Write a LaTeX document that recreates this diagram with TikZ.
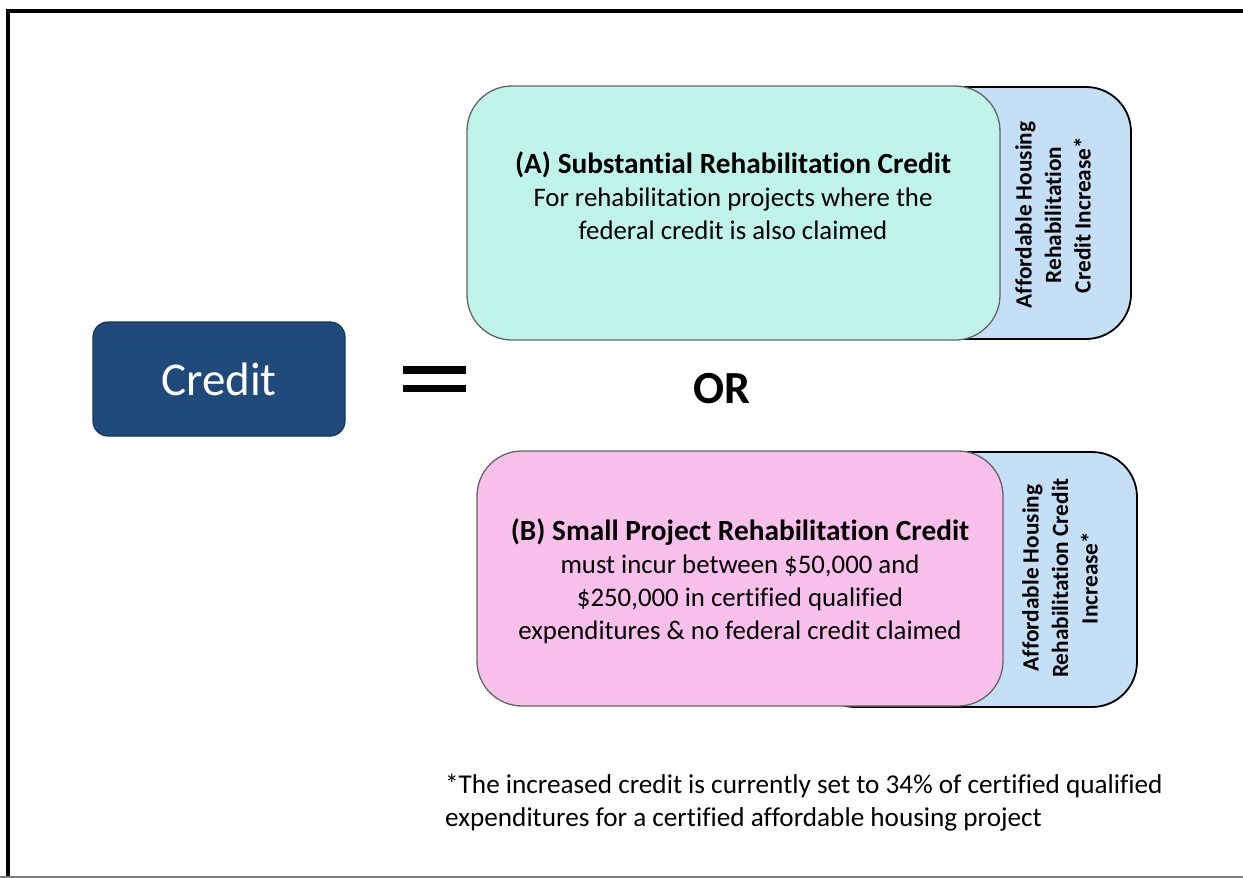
\documentclass[tikz,border=0pt]{standalone}
\usepackage{fontspec}
\setmainfont{Carlito}[Ligatures=NoCommon]
\definecolor{cA}{RGB}{192,244,234}
\definecolor{cB}{RGB}{249,192,236}
\definecolor{cInc}{RGB}{197,224,246}
\definecolor{cCred}{RGB}{32,74,123}
\definecolor{cCredB}{RGB}{22,52,88}
\definecolor{cEdge}{RGB}{100,100,100}
\begin{document}
\begin{tikzpicture}[x=1pt,y=-1pt,
  mainbox/.style={draw=cEdge, line width=1.3pt, rounded corners=45pt, inner sep=0pt},
  incbox/.style={draw=black, line width=1.8pt, rounded corners=45pt, fill=cInc, inner sep=0pt},
  boxtext/.style={align=center, font=\fontsize{26.8}{33}\selectfont},
  inctext/.style={align=center, rotate=90, font=\bfseries\fontsize{23.3}{29.5}\selectfont},
  frameline/.style={line width=4pt, black}
]
\useasboundingbox (0,0) rectangle (1243,878);
% frame
\coordinate (fTL) at (8,11);
\coordinate (fTR) at (1243,11);
\coordinate (fBL) at (8,878);
\draw[frameline] (fTR) -- (fTL) -- (fBL);
\coordinate (bL) at (0,877);
\coordinate (bR) at (1243,877);
\draw[line width=1.2pt, gray] (bL) -- (bR);

% credit
\node[draw=cCredB, line width=1.2pt, fill=cCred, rounded corners=15pt,
      minimum width=252pt, minimum height=114pt, inner sep=0pt,
      text=white, font=\fontsize{47}{50}\selectfont] (credit) at (219,379) {Credit};

% equals sign
\fill[black] (403,366) rectangle (466,373.5);
\fill[black] (403,384.5) rectangle (466,392);

% OR
\node[font=\bfseries\fontsize{46}{50}\selectfont] (or) at (722,389) {OR};

% top group
\node[incbox, minimum width=331pt, minimum height=252pt] (incA) at (965.5,213) {};
\node[mainbox, fill=cA, minimum width=533pt, minimum height=254pt] (boxA) at (733.5,213) {};
\node[boxtext] (txtA) at (733,196) {{\bfseries\fontsize{29.3}{33}\selectfont (A) Substantial Rehabilitation Credit}\\
  For rehabilitation projects where the\\ federal credit is also claimed};
\node[inctext] (itA) at (1053,215) {Affordable Housing\\ Rehabilitation\\ Credit Increase*};

% bottom group
\node[incbox, minimum width=327pt, minimum height=255pt] (incB) at (973.5,579.5) {};
\node[mainbox, fill=cB, minimum width=526pt, minimum height=255pt] (boxB) at (740,578.5) {};
\node[boxtext] (txtB) at (740,581) {{\bfseries\fontsize{29.3}{35}\selectfont (B) Small Project Rehabilitation Credit}\\
  must incur between \$50,000 and\\ \$250,000 in certified qualified\\ expenditures \& no federal credit claimed};
\node[inctext] (itB) at (1060,578) {Affordable Housing\\ Rehabilitation Credit\\ Increase*};

% footnote
\node[align=left, anchor=west, inner sep=0pt, font=\fontsize{27.2}{33}\selectfont] (note) at (445,803)
  {*The increased credit is currently set to 34\% of certified qualified\\ expenditures for a certified affordable housing project};
\end{tikzpicture}
\end{document}
